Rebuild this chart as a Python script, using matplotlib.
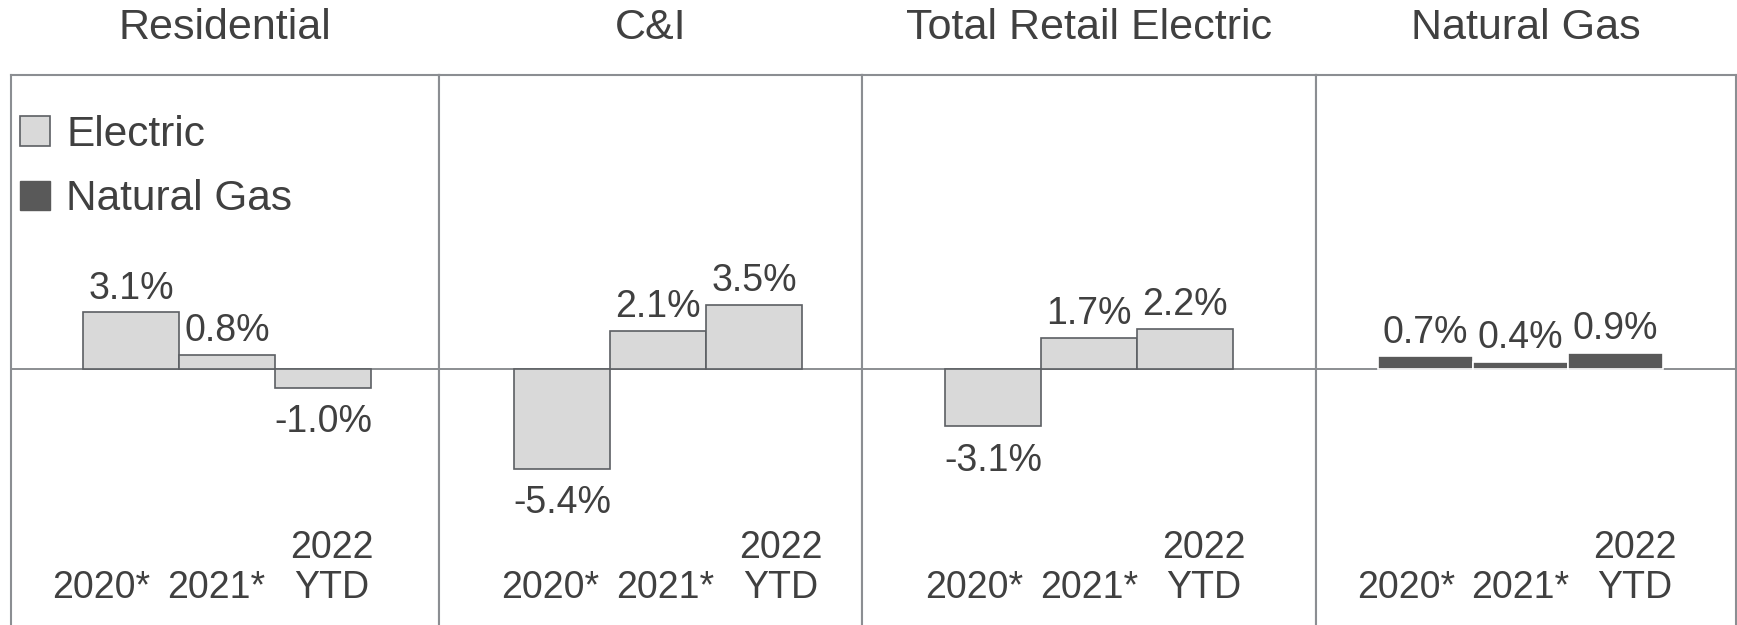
import matplotlib.pyplot as plt
from matplotlib.patches import Patch

plt.rcParams['font.family'] = ['Liberation Sans', 'DejaVu Sans']

# data
panels = ['Residential', 'C&I', 'Total Retail Electric', 'Natural Gas']
years = ['2020*', '2021*', '2022\nYTD']
residential = [3.1, 0.8, -1.0]
c_and_i = [-5.4, 2.1, 3.5]
total_retail = [-3.1, 1.7, 2.2]
natural_gas = [0.7, 0.4, 0.9]
series = [residential, c_and_i, total_retail, natural_gas]
kinds = ['Electric', 'Electric', 'Electric', 'Natural Gas']

# styles
text_col = '#404040'
frame_col = '#8b8e92'
edge_col = '#5c5f63'
fills = {'Electric': '#d9d9d9', 'Natural Gas': '#595959'}
edges = {'Electric': edge_col, 'Natural Gas': 'white'}

# layout (pixels of the 1737x625 canvas)
widths = [428, 423, 454, 420]
bar_start = [72, 75, 83, 62]
bar_px = [96, 96, 96, 95]
label_shift = [-0.11, 0.08, 0.0, 0.0]

fig = plt.figure(figsize=(17.37, 6.25), dpi=100)
gs = fig.add_gridspec(1, 4, width_ratios=widths, left=11 / 1737, right=1736 / 1737,
                      bottom=0, top=0.88, wspace=0)

for k in range(4):
    ax = fig.add_subplot(gs[0, k])
    vals = series[k]
    x = list(range(len(vals)))
    ax.bar(x, vals, width=1.0, color=fills[kinds[k]], edgecolor=edges[kinds[k]],
           linewidth=1.2, zorder=3)
    ax.axhline(0, color=frame_col, lw=1.4, zorder=2)

    lo = -0.5 - bar_start[k] / bar_px[k]
    ax.set_xlim(lo, lo + widths[k] / bar_px[k])
    ax.set_ylim(-13.9, 16.0)

    for i, v in enumerate(vals):
        ax.annotate(f'{v:.1f}%', (i, v), xytext=(0, 4 if v >= 0 else -12),
                    textcoords='offset points', ha='center',
                    va='bottom' if v >= 0 else 'top', fontsize=27, color=text_col)

    # category labels sit along the bottom, slightly spread out
    for i, lab in enumerate(years):
        ax.text(i * 1.2 - 0.2 + label_shift[k], 0.035, lab,
                transform=ax.get_xaxis_transform(), ha='center', va='bottom',
                multialignment='center', linespacing=1.15, fontsize=27, color=text_col)

    ax.text(0.5, 1.085, panels[k], transform=ax.transAxes, ha='center', va='center',
            fontsize=31, color=text_col)

    ax.set_xticks([])
    ax.set_yticks([])
    for s in ['left', 'right', 'top']:
        ax.spines[s].set_color(frame_col)
        ax.spines[s].set_linewidth(1.5)
    ax.spines['bottom'].set_visible(False)

    if k == 0:
        handles = [Patch(facecolor=fills['Electric'], edgecolor=edge_col, linewidth=1.2),
                   Patch(facecolor=fills['Natural Gas'], edgecolor=fills['Natural Gas'])]
        leg = ax.legend(handles, ['Electric', 'Natural Gas'], loc='upper left',
                        bbox_to_anchor=(0.022, 0.928), frameon=False, fontsize=30.5,
                        handlelength=0.7, handleheight=0.7, handletextpad=0.38,
                        labelspacing=0.58, borderpad=0, borderaxespad=0)
        for t in leg.get_texts():
            t.set_color(text_col)

fig.savefig('out.png', dpi=100)
